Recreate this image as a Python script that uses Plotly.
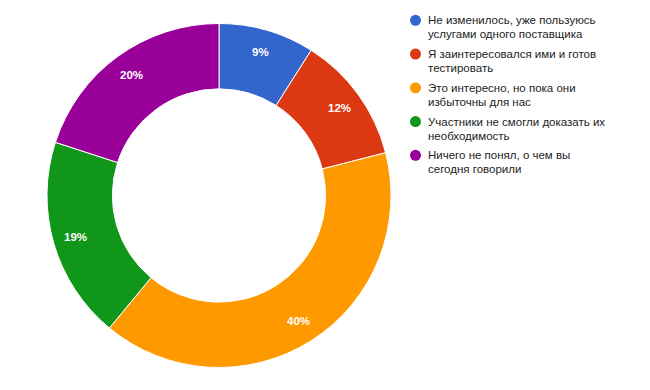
import math
import plotly.graph_objects as go

labels = [
    "Не изменилось, уже пользуюсь<br>услугами одного поставщика",
    "Я заинтересовался ими и готов<br>тестировать",
    "Это интересно, но пока они<br>избыточны для нас",
    "Участники не смогли доказать их<br>необходимость",
    "Ничего не понял, о чем вы<br>сегодня говорили",
]
values = [9, 12, 40, 19, 20]
colors = ["#3366CC", "#DC3912", "#FF9900", "#109618", "#990099"]

FONT = "Liberation Sans, Arial, sans-serif"
W, H = 650, 390

# pie geometry (pixels)
CX, CY, R = 219, 195.5, 172
LABEL_R = 149

fig = go.Figure()
fig.add_trace(go.Pie(
    labels=[l.replace("<br>", " ") for l in labels],
    values=values,
    hole=0.62,
    sort=False,
    direction="clockwise",
    rotation=0,
    marker=dict(colors=colors, line=dict(color="white", width=1)),
    textinfo="none",
    showlegend=False,
    domain=dict(x=[(CX - R) / W, (CX + R) / W], y=[1 - (CY + R) / H, 1 - (CY - R) / H]),
    hoverinfo="label+percent",
))

annotations = []
shapes = []

# slice labels at mid-angle of each slice
total = sum(values)
cum = 0
for v in values:
    mid = (cum + v / 2) / total * 2 * math.pi
    cum += v
    px = CX + LABEL_R * math.sin(mid)
    py = CY - LABEL_R * math.cos(mid)
    annotations.append(dict(
        x=px / W, y=1 - py / H, xref="paper", yref="paper",
        text="<b>%d%%</b>" % round(v / total * 100), showarrow=False,
        font=dict(color="white", size=11.5, family=FONT),
        xanchor="center", yanchor="middle",
    ))

# legend
LX_MARK, LX_TEXT, LY0, PITCH, LINE = 415.5, 426, 20.3, 33.75, 14
MR = 5.5
for i, (lab, col) in enumerate(zip(labels, colors)):
    y = LY0 + PITCH * i
    shapes.append(dict(
        type="circle", xref="paper", yref="paper",
        x0=(LX_MARK - MR) / W, x1=(LX_MARK + MR) / W,
        y0=1 - (y + MR) / H, y1=1 - (y - MR) / H,
        fillcolor=col, line=dict(width=0),
    ))
    for j, line in enumerate(lab.split("<br>")):
        annotations.append(dict(
            x=LX_TEXT / W, y=1 - (y + LINE * j) / H, xref="paper", yref="paper",
            text=line, showarrow=False, xanchor="left", yanchor="middle",
            font=dict(color="#222222", size=11.5, family=FONT),
        ))

fig.update_layout(
    width=W, height=H,
    margin=dict(l=0, r=0, t=0, b=0),
    paper_bgcolor="white", plot_bgcolor="white",
    font=dict(family=FONT, size=12, color="#222222"),
    annotations=annotations,
    shapes=shapes,
)

fig.write_html("out.html", config={"displayModeBar": False},
               post_script="document.body.style.margin='0px';")
